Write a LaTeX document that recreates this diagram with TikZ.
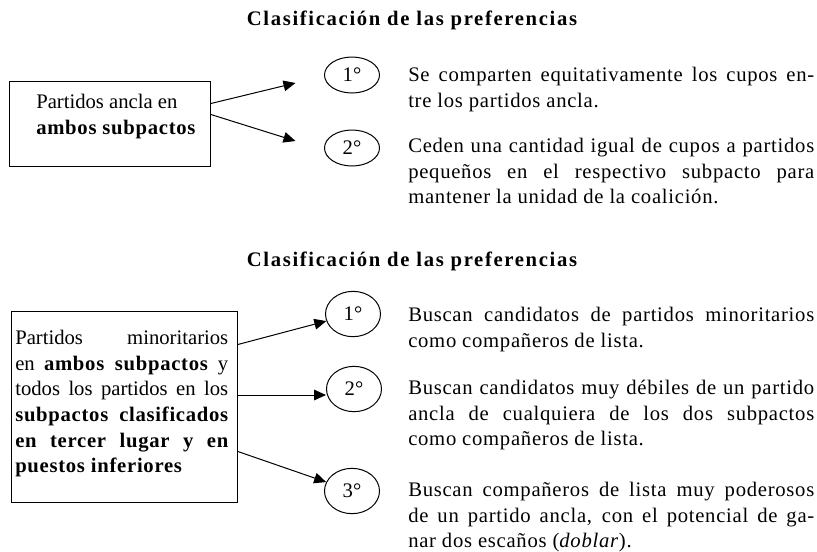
\documentclass[tikz,border=0pt]{standalone}
\usepackage{fontspec}
\setmainfont{Liberation Serif}
\usepackage{tikz}
\usetikzlibrary{arrows.meta}
\usetikzlibrary{shapes,fit,calc,positioning}
\newcommand{\negrita}[1]{\textbf{\addfontfeature{LetterSpace=3.5}#1}}

\begin{document}
\begin{tikzpicture}[
	x=0.75pt, y=-0.75pt,
	every node/.style = {inner sep=0pt, font=\fontsize{15.5}{19.2}\selectfont},
	titulo/.style = {font=\fontsize{15.5}{19.2}\selectfont\bfseries\addfontfeature{LetterSpace=8}},
	caja/.style = {shape=rectangle, draw, line width=0.75pt},
	orden/.style = {shape=ellipse, draw, line width=0.75pt, minimum width=41.25pt},
	texto/.style = {align=justify, text width=304.5pt,
		font=\fontsize{15.5}{19.2}\selectfont\addfontfeature{LetterSpace=3.5}},
	flecha/.style = {-{Triangle[length=9pt,width=8pt]}, line width=0.75pt}
]
\useasboundingbox (0,0) rectangle (817,551);

\node[titulo] (tit1) at (412,20) {Clasificación de las preferencias};
\node[caja, minimum width=150.75pt, minimum height=63.75pt, anchor=north west] (ancla) at (9,81) {};
\node[anchor=north west, align=left] (anclatxt) at (36,94) {Partidos ancla en\\ \negrita{ambos subpactos}};
\node[orden, minimum height=27pt] (pref1) at (352,75) {1°};
\node[orden, minimum height=27pt] (pref2) at (352,148) {2°};
\node[texto, anchor=north west] (reglaA) at (408,67)
	{Se comparten equitativamente los cupos en-\linebreak tre los partidos ancla.};
\node[texto, anchor=north west] (reglaB) at (408,138)
	{Ceden una cantidad igual de cupos a partidos\linebreak pequeños en el respectivo subpacto para\linebreak mantener la unidad de la coalición.};
\draw[flecha] ([yshift=15.4pt]ancla.east) -- ([xshift=-21.4pt,yshift=-6pt]pref1.west);
\draw[flecha] ([yshift=7.1pt]ancla.east) -- ([xshift=-21.4pt,yshift=5.25pt]pref2.west);

\node[titulo] (tit2) at (412,261) {Clasificación de las preferencias};
\node[caja, minimum width=169.5pt, minimum height=143.25pt, anchor=north west] (minor) at (11,311) {};
\node[align=justify, text width=159.75pt, anchor=north west] (minortxt) at (15,330)
	{Partidos minoritarios\linebreak en \negrita{ambos subpactos} y\linebreak todos los partidos en los\linebreak \negrita{subpactos clasificados\linebreak en tercer lugar y en\linebreak puestos inferiores}};
\node[orden, minimum height=34pt] (sel1) at (353,314) {1°};
\node[orden, minimum height=34pt] (sel2) at (354,389) {2°};
\node[orden, minimum height=34pt] (sel3) at (352,491) {3°};
\node[texto, anchor=north west] (reglaC) at (408,307)
	{Buscan candidatos de partidos minoritarios\linebreak como compañeros de lista.};
\node[texto, anchor=north west] (reglaD) at (408,380)
	{Buscan candidatos muy débiles de un partido\linebreak ancla de cualquiera de los dos subpactos\linebreak como compañeros de lista.};
\node[texto, anchor=north west] (reglaE) at (408,482)
	{Buscan compañeros de lista muy poderosos\linebreak de un partido ancla, con el potencial de ga-\linebreak nar dos escaños (\textit{doblar}).};
\draw[flecha] ([yshift=46.9pt]minor.east) -- (sel1);
\draw[flecha] ([yshift=-4.5pt]sel2.west -| minor.east) -- ([yshift=-4.5pt]sel2.west);
\draw[flecha] ([yshift=-33.4pt]minor.east) -- (sel3);
\end{tikzpicture}
\end{document}
